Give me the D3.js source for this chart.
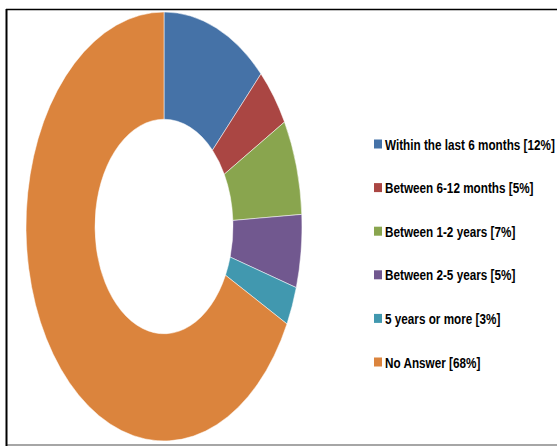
<!DOCTYPE html>
<html>
<head>
<meta charset="utf-8">
<script src="https://cdn.jsdelivr.net/npm/d3@7"></script>
<style>
  html, body { margin: 0; padding: 0; background: #fff; }
  svg { display: block; }
</style>
</head>
<body>
<div id="chart"></div>
<script>
const categories = [
  'Within the last 6 months',
  'Between 6-12 months',
  'Between 1-2 years',
  'Between 2-5 years',
  '5 years or more',
  'No Answer'
];
const values = [12.4, 4.5, 7.2, 5.5, 2.9, 67.5];
const labels = ['12%', '5%', '7%', '5%', '3%', '68%'];
const colors = ['#4572A7', '#AA4643', '#89A54E', '#71588F', '#4198AF', '#DB843D'];

const width = 557;
const height = 446;

const svg = d3.select('#chart').append('svg')
  .attr('width', width)
  .attr('height', height);

// frame
svg.append('line')
  .attr('x1', 6).attr('y1', 9.5).attr('x2', width).attr('y2', 9.5)
  .attr('stroke', '#000').attr('stroke-width', 1.5);
svg.append('line')
  .attr('x1', 6).attr('y1', 445).attr('x2', width).attr('y2', 445)
  .attr('stroke', '#888').attr('stroke-width', 1.5);
svg.append('line')
  .attr('x1', 6.5).attr('y1', 9).attr('x2', 6.5).attr('y2', 446)
  .attr('stroke', '#000').attr('stroke-width', 2);

const data = categories.map((c, i) => ({ name: c, value: values[i], label: labels[i], color: colors[i] }));

const pie = d3.pie().sort(null).value(d => d.value);
const rOuter = 138;
const arc = d3.arc().innerRadius(rOuter * 0.5).outerRadius(rOuter);

// the donut is stretched vertically in the original
const g = svg.append('g')
  .attr('transform', `translate(164,226.5) scale(1,${214.5 / rOuter})`);

g.selectAll('path')
  .data(pie(data))
  .enter()
  .append('path')
  .attr('d', arc)
  .attr('fill', d => d.data.color)
  .attr('stroke', '#fff')
  .attr('stroke-width', 0.4);

// legend
const y = d3.scalePoint()
  .domain(categories)
  .range([144, 362]);

const legend = svg.append('g').attr('class', 'legend');
const item = legend.selectAll('g')
  .data(data)
  .enter()
  .append('g')
  .attr('transform', d => `translate(374,${y(d.name)})`);

item.append('rect')
  .attr('x', 0).attr('y', -4.5)
  .attr('width', 8).attr('height', 9)
  .attr('fill', d => d.color);

const texts = item.append('g')
  .attr('transform', 'translate(11,5.5)')
  .append('text')
  .attr('font-family', '"Liberation Sans", Arial, sans-serif')
  .attr('font-weight', 'bold')
  .attr('font-size', 15)
  .attr('fill', '#000')
  .text(d => `${d.name} [${d.label}]`);

// squeeze to look like the condensed original font
const first = texts.node().getComputedTextLength();
const sx = 170 / first;
texts.attr('transform', `scale(${sx},1)`);
</script>
</body>
</html>
